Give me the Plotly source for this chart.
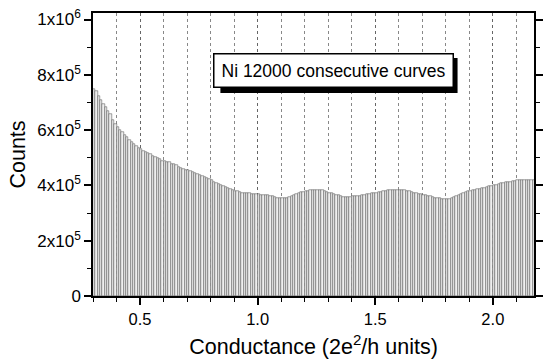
import plotly.graph_objects as go

# Histogram of conductance (bin start 0.30, width 0.01), counts in units of 1e5
bin_start = 0.30
bin_width = 0.01
counts_e5 = [
    7.48, 7.40, 7.22, 7.08, 6.95, 6.82, 6.70, 6.58, 6.38, 6.22,   # 0.30-0.39
    6.10, 6.00, 5.92, 5.84, 5.75, 5.66, 5.58, 5.50, 5.42, 5.36,   # 0.40-0.49
    5.30, 5.24, 5.20, 5.16, 5.12, 5.07, 5.02, 4.98, 4.94, 4.90,   # 0.50-0.59
    4.88, 4.86, 4.83, 4.79, 4.76, 4.72, 4.68, 4.64, 4.60, 4.57,   # 0.60-0.69
    4.55, 4.52, 4.48, 4.45, 4.41, 4.38, 4.34, 4.30, 4.26, 4.22,   # 0.70-0.79
    4.18, 4.13, 4.09, 4.05, 4.01, 3.97, 3.93, 3.89, 3.86, 3.83,   # 0.80-0.89
    3.80, 3.78, 3.76, 3.74, 3.73, 3.72, 3.71, 3.70, 3.70, 3.69,   # 0.90-0.99
    3.68, 3.67, 3.66, 3.65, 3.64, 3.62, 3.60, 3.58, 3.56, 3.55,   # 1.00-1.09
    3.55, 3.55, 3.56, 3.58, 3.61, 3.65, 3.69, 3.72, 3.75, 3.77,   # 1.10-1.19
    3.79, 3.81, 3.83, 3.84, 3.85, 3.85, 3.84, 3.82, 3.80, 3.77,   # 1.20-1.29
    3.74, 3.72, 3.70, 3.67, 3.64, 3.61, 3.59, 3.58, 3.58, 3.59,   # 1.30-1.39
    3.60, 3.61, 3.62, 3.63, 3.65, 3.67, 3.69, 3.70, 3.72, 3.73,   # 1.40-1.49
    3.74, 3.75, 3.76, 3.78, 3.80, 3.82, 3.83, 3.84, 3.85, 3.85,   # 1.50-1.59
    3.84, 3.83, 3.82, 3.80, 3.78, 3.76, 3.74, 3.72, 3.70, 3.68,   # 1.60-1.69
    3.66, 3.64, 3.62, 3.60, 3.58, 3.56, 3.54, 3.53, 3.52, 3.51,   # 1.70-1.79
    3.51, 3.52, 3.55, 3.58, 3.62, 3.66, 3.69, 3.72, 3.75, 3.78,   # 1.80-1.89
    3.80, 3.82, 3.84, 3.86, 3.88, 3.90, 3.92, 3.95, 3.97, 3.99,   # 1.90-1.99
    4.01, 4.03, 4.06, 4.08, 4.10, 4.11, 4.12, 4.13, 4.15, 4.17,   # 2.00-2.09
    4.19, 4.20, 4.20, 4.20, 4.19, 4.19, 4.18, 4.18,               # 2.10-2.17
]

x_tick_vals = [0.5, 1.0, 1.5, 2.0]
x_tick_text = ["0.5", "1.0", "1.5", "2.0"]
y_tick_vals = [0, 2e5, 4e5, 6e5, 8e5, 1e6]
y_tick_text = ["0", "2x10<sup>5</sup>", "4x10<sup>5</sup>", "6x10<sup>5</sup>",
               "8x10<sup>5</sup>", "1x10<sup>6</sup>"]
label_text = "Ni 12000 consecutive curves"

centers = [bin_start + bin_width * (i + 0.5) for i in range(len(counts_e5))]
counts = [v * 1e5 for v in counts_e5]

FONT = "Liberation Sans, Arial, Helvetica, sans-serif"

fig = go.Figure()
fig.add_trace(go.Bar(
    x=centers, y=counts, width=bin_width,
    marker=dict(color="#efefef", line=dict(color="#4a4a4a", width=0.5)),
    showlegend=False, hoverinfo="skip",
))

# drop shadow of the label box (paper coordinates of the 450x283 plot area)
fig.add_shape(type="rect", xref="paper", yref="paper",
              x0=(223 - 93) / 450, x1=(465 - 93) / 450,
              y0=(296 - 93) / 283, y1=(296 - 58) / 283,
              fillcolor="black", line=dict(width=0), layer="above")

fig.add_annotation(
    x=(338 - 93) / 450, y=(296 - 70.5) / 283, xref="paper", yref="paper",
    xanchor="center", yanchor="middle",
    text=label_text, showarrow=False,
    font=dict(family=FONT, size=17.5, color="black"), bgcolor="white",
    bordercolor="black", borderwidth=1.5, borderpad=6,
    width=226, height=20,
)

fig.update_layout(
    width=546, height=362,
    margin=dict(l=93, r=3, t=13, b=66),
    paper_bgcolor="white", plot_bgcolor="white",
    bargap=0,
    font=dict(family=FONT, size=17, color="black"),
    xaxis=dict(
        range=[0.3, 2.175],
        tickvals=x_tick_vals, ticktext=x_tick_text,
        ticks="outside", ticklen=7, tickwidth=1.5, tickcolor="black",
        showline=True, linecolor="black", linewidth=1.5, mirror=True,
        showgrid=True, gridcolor="#666", griddash="dot", gridwidth=0.8,
        minor=dict(dtick=0.1, tick0=0, ticks="outside", ticklen=4, tickwidth=1.2,
                   tickcolor="black", showgrid=True, gridcolor="#888",
                   griddash="dot", gridwidth=0.8),
        title=dict(text="Conductance (2e<sup>2</sup>/h units)", font=dict(size=21.5), standoff=12),
        tickfont=dict(size=16.5), zeroline=False,
    ),
    yaxis=dict(
        range=[0, 1.0235e6],
        tickvals=y_tick_vals, ticktext=y_tick_text,
        ticks="outside", ticklen=7, tickwidth=1.5, tickcolor="black",
        showline=True, linecolor="black", linewidth=1.5, mirror="ticks",
        showgrid=False,
        minor=dict(dtick=1e5, tick0=0, ticks="outside", ticklen=4, tickwidth=1.2,
                   tickcolor="black", showgrid=False),
        title=dict(text="Counts", font=dict(size=21.5), standoff=6),
        tickfont=dict(size=17), zeroline=False,
    ),
)

fig.write_html("out.html")
